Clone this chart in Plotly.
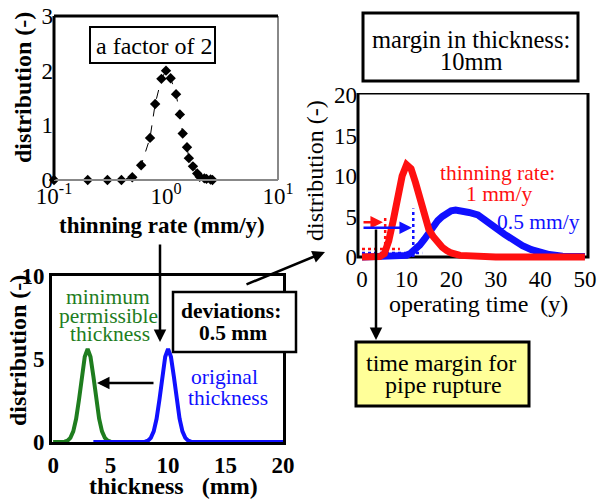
import plotly.graph_objects as go

W, H = 601, 501
def fx(p): return p / W
def fy(p): return 1 - p / H

SERIF = "'Liberation Serif', 'Times New Roman', Times, serif"

# ---------------- data ----------------
rate = [0.1, 0.2, 0.3, 0.4, 0.5, 0.6, 0.72, 0.8, 0.91, 1.0, 1.1, 1.23, 1.33, 1.41, 1.54, 1.6, 1.74, 1.9, 2.0, 2.2, 2.3, 2.5, 2.6]
rate_dist = [0, 0, 0, 0, 0.05, 0.27, 0.77, 1.39, 1.85, 2.0, 1.86, 1.57, 1.2, 0.85, 0.6, 0.4, 0.25, 0.12, 0.06, 0.03, 0.02, 0.01, 0]

thk_min_x = [0, 0.5, 1.0, 1.25, 1.5, 1.75, 2.0, 2.25, 2.5, 2.75, 3.0, 3.25, 3.5, 3.75, 4.0, 4.25, 4.5, 4.75, 5.0, 5.5, 6.0, 7.0, 7.8]
thk_min_y = [0, 0, 0.02, 0.08, 0.25, 0.64, 1.4, 2.56, 3.96, 5.13, 5.6, 5.13, 3.96, 2.56, 1.4, 0.64, 0.25, 0.08, 0.02, 0, 0, 0, 0]

thk_org_x = [3.5, 5.0, 6.0, 7.0, 7.5, 8.0, 8.25, 8.5, 8.75, 9.0, 9.25, 9.5, 9.75, 10.0, 10.25, 10.5, 10.75, 11.0, 11.25, 11.5, 11.75, 12.0, 12.5, 13.0, 15.0, 17.5, 20.0]
thk_org_y = [0, 0, 0, 0, 0, 0.02, 0.08, 0.25, 0.64, 1.4, 2.56, 3.96, 5.13, 5.6, 5.13, 3.96, 2.56, 1.4, 0.64, 0.25, 0.08, 0.02, 0, 0, 0, 0, 0]

t_red = [0, 1, 2, 3, 4, 5, 6, 7, 8, 9, 10, 11, 12, 13, 14, 15, 16, 17, 18, 19, 20, 22, 25, 30, 35, 40, 45, 50]
d_red = [0, 0, 0, 0, 0.05, 0.4, 2.0, 4.5, 7.3, 10.0, 11.4, 10.9, 9.2, 7.0, 5.0, 3.4, 2.5, 1.8, 1.2, 0.8, 0.5, 0.2, 0.05, 0, 0, 0, 0, 0]

t_blue = [0, 2, 4, 6, 8, 9, 10, 11, 12, 13, 14, 15, 16, 17, 18, 19, 20, 21, 22, 23, 24, 26, 28, 30, 32, 34, 36, 38, 40, 42, 45, 50]
d_blue = [0, 0, 0, 0, 0, 0.05, 0.2, 0.5, 0.9, 1.5, 2.2, 3.0, 3.8, 4.5, 5.0, 5.4, 5.7, 5.8, 5.75, 5.65, 5.5, 5.2, 4.5, 3.6, 2.8, 2.0, 1.4, 0.9, 0.55, 0.3, 0.1, 0.05]

# margin markers (time, level)
red_margin_t, red_margin_top, red_margin_level, red_level_end = 5.2, 5.0, 1.0, 8.5
blue_margin_t, blue_margin_top, blue_margin_level, blue_level_end = 11.5, 6.0, 0.5, 13.5
red_arrow_y, red_arrow_t = 4.3, 4.7
blue_arrow_y, blue_arrow_t = 3.6, 11.2

RED = "#ff1010"
BLUE = "#1010ff"
GREEN = "#1e7d1e"

fig = go.Figure()

# panel 1
fig.add_trace(go.Scatter(x=rate, y=rate_dist, mode="lines+markers",
                         line=dict(color="black", width=1, dash="dash"),
                         marker=dict(symbol="diamond", size=8, color="black"),
                         cliponaxis=False, xaxis="x", yaxis="y", showlegend=False))
# panel 2
fig.add_trace(go.Scatter(x=thk_min_x, y=thk_min_y, mode="lines",
                         line=dict(color=GREEN, width=4), xaxis="x2", yaxis="y2", showlegend=False))
fig.add_trace(go.Scatter(x=thk_org_x, y=thk_org_y, mode="lines",
                         line=dict(color=BLUE, width=4), xaxis="x2", yaxis="y2", showlegend=False))
# panel 3
fig.add_trace(go.Scatter(x=[red_margin_t, red_margin_t], y=[0, red_margin_top], mode="lines",
                         line=dict(color=RED, width=2.5, dash="dot"), xaxis="x3", yaxis="y3", showlegend=False))
fig.add_trace(go.Scatter(x=[0, red_level_end], y=[red_margin_level, red_margin_level], mode="lines",
                         line=dict(color=RED, width=2.5, dash="dot"), xaxis="x3", yaxis="y3", showlegend=False))
fig.add_trace(go.Scatter(x=[blue_margin_t, blue_margin_t], y=[0, blue_margin_top], mode="lines",
                         line=dict(color=BLUE, width=2.5, dash="dot"), xaxis="x3", yaxis="y3", showlegend=False))
fig.add_trace(go.Scatter(x=[0, blue_level_end], y=[blue_margin_level, blue_margin_level], mode="lines",
                         line=dict(color=BLUE, width=2.5, dash="dot"), xaxis="x3", yaxis="y3", showlegend=False))
fig.add_trace(go.Scatter(x=t_blue, y=d_blue, mode="lines",
                         line=dict(color=BLUE, width=7), xaxis="x3", yaxis="y3", showlegend=False))
fig.add_trace(go.Scatter(x=t_red, y=d_red, mode="lines",
                         line=dict(color=RED, width=7), xaxis="x3", yaxis="y3", showlegend=False))

tick_reg = dict(family=SERIF, size=23, color="black")
tick_bold = dict(family=SERIF, size=23, color="black", weight="bold")

ax_common = dict(showgrid=False, zeroline=False, ticks="", fixedrange=True, automargin=False)

fig.update_layout(
    width=W, height=H, margin=dict(l=0, r=0, t=0, b=0, pad=0, autoexpand=False),
    paper_bgcolor="white", plot_bgcolor="white",
    font=dict(family=SERIF),
    xaxis=dict(domain=[fx(54), fx(278)], type="log", range=[-1, 1], anchor="y",
               tickvals=[0.1, 1, 10], ticktext=["10<sup>-1</sup>", "10<sup>0</sup>", "10<sup>1</sup>"],
               tickfont=tick_reg, showline=False, **ax_common),
    yaxis=dict(domain=[fy(180), fy(16)], range=[0, 3], anchor="x", tickvals=[0, 1, 2, 3],
               tickfont=tick_reg, showline=False, **ax_common),
    xaxis2=dict(domain=[fx(52), fx(283)], range=[-0.1, 20], anchor="y2", tickvals=[0, 5, 10, 15, 20],
                tickfont=tick_bold, showline=True, mirror=True, linecolor="black", linewidth=3, **ax_common),
    yaxis2=dict(domain=[fy(442), fy(276)], range=[0, 10], anchor="x2", tickvals=[0, 5, 10],
                tickfont=tick_bold, showline=True, mirror=True, linecolor="black", linewidth=3, **ax_common),
    xaxis3=dict(domain=[fx(358), fx(588)], range=[-0.9, 50.7], anchor="y3", tickvals=[0, 10, 20, 30, 40, 50],
                tickfont=tick_reg, showline=False, **ax_common),
    yaxis3=dict(domain=[fy(263), fy(93)], range=[-0.74, 20.25], anchor="x3", tickvals=[0, 5, 10, 15, 20],
                tickfont=tick_reg, showline=False, **ax_common),
)

shapes = []
# panel 1 frame
shapes.append(dict(type="line", xref="x domain", yref="y domain", x0=0, x1=1, y0=0, y1=0, line=dict(color="#888888", width=2)))
shapes.append(dict(type="line", xref="x domain", yref="y domain", x0=1, x1=1, y0=0, y1=1, line=dict(color="#888888", width=2)))
shapes.append(dict(type="line", xref="x domain", yref="y domain", x0=0, x1=1, y0=1, y1=1, line=dict(color="black", width=3)))
shapes.append(dict(type="line", xref="x domain", yref="y domain", x0=0, x1=0, y0=0, y1=1, line=dict(color="black", width=3)))
# panel 3 frame
shapes.append(dict(type="rect", xref="x3 domain", yref="y3", x0=0, x1=1, y0=0, y1=20.25,
                   line=dict(color="black", width=3), layer="below"))

def box(x0, y0, x1, y1, w=2.5, fill="white"):
    shapes.append(dict(type="rect", xref="paper", yref="paper", x0=fx(x0), x1=fx(x1), y0=fy(y1), y1=fy(y0),
                       line=dict(color="black", width=w), fillcolor=fill, layer="above"))

box(90, 27, 215, 63, 2)
box(363, 13, 578, 81, 3)
box(173, 292, 296, 352, 2.5)
box(356, 342, 529, 406, 3, "#ffff99")
fig.update_layout(shapes=shapes)

ann = []
def text(s, x, y, size=21, color="black", bold=False, angle=0):
    ann.append(dict(text=s, x=fx(x), y=fy(y), xref="paper", yref="paper", showarrow=False,
                    xanchor="center", yanchor="middle", textangle=angle,
                    font=dict(family=SERIF, size=size, color=color, weight="bold" if bold else "normal")))

text("a factor of 2", 154, 46, 24)
text("margin in thickness:", 471, 39, 24.5)
text("10mm", 471, 61, 24.5)
text("time margin for", 441, 363, 24)
text("pipe rupture", 443, 385, 24)
text("deviations:", 231, 310.5, 21.5, bold=True)
text("0.5 mm", 233, 332.5, 21.5, bold=True)
text("minimum", 108, 296.5, 21.5, GREEN)
text("permissible", 108, 315.5, 21.5, GREEN)
text("thickness", 110, 334, 21.5, GREEN)
text("original", 224, 376.5, 21.5, BLUE)
text("thickness", 228, 397.5, 21.5, BLUE)
text("thinning rate:", 497, 173.5, 21.5, RED)
text("1 mm/y", 499, 193.5, 21.5, RED)
text("0.5 mm/y", 538, 221.5, 21.5, BLUE)
# axis titles
text("distribution (-)", 23, 88, 24, bold=True, angle=-90)
text("thinning rate (mm/y)", 162, 225, 23, bold=True)
text("distribution (-)", 18, 351, 24, bold=True, angle=-90)
text("thickness   (mm)", 173, 486, 24, bold=True)
text("distribution (-)", 315, 171, 24, angle=-90)
text("operating time  (y)", 478, 304, 24)

def arrow(tip, tail, xref="paper", yref="paper", w=2.5, color="black"):
    if xref == "paper":
        ann.append(dict(x=fx(tip[0]), y=fy(tip[1]), xref="paper", yref="paper", text="", showarrow=True,
                        ax=tail[0] - tip[0], ay=tail[1] - tip[1], axref="pixel", ayref="pixel",
                        arrowhead=2, arrowsize=1, arrowwidth=w, arrowcolor=color, standoff=0))
    else:
        ann.append(dict(x=tip[0], y=tip[1], xref=xref, yref=yref, text="", showarrow=True,
                        ax=tail[0], ay=tail[1], axref=xref, ayref=yref,
                        arrowhead=2, arrowsize=1, arrowwidth=w, arrowcolor=color, standoff=0))

arrow((160, 342), (160, 243))
arrow((97, 383), (155, 383))
arrow((325, 252), (245, 285))
arrow((376, 340), (376, 228))
arrow((red_arrow_t, red_arrow_y), (0, red_arrow_y), "x3", "y3", 2.5, RED)
arrow((blue_arrow_t, blue_arrow_y), (0, blue_arrow_y), "x3", "y3", 2.5, BLUE)

fig.update_layout(annotations=ann)
fig.write_html("out.html")
